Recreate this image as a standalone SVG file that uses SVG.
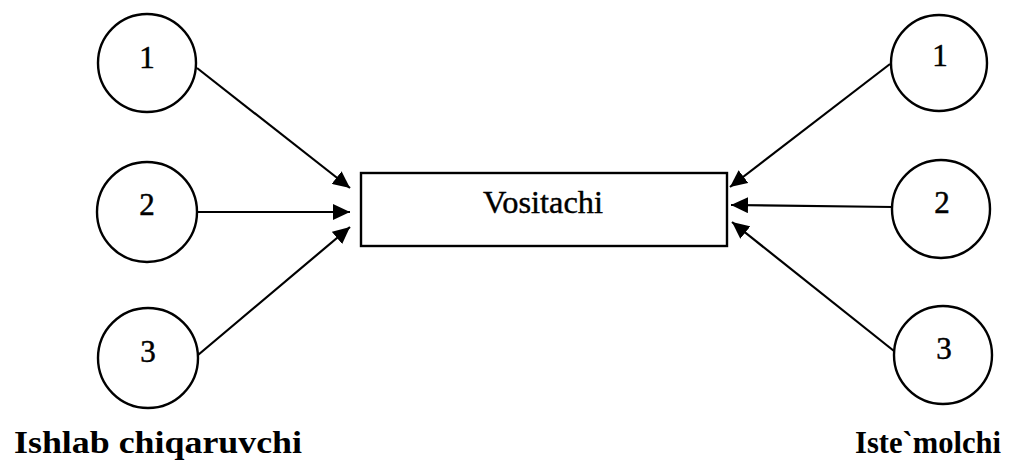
<svg xmlns="http://www.w3.org/2000/svg" width="1009" height="465" viewBox="0 0 1009 465">
<defs>
<style>
.node{fill:#fff;stroke:#000;stroke-width:2.4}
.num{font-family:"Liberation Serif",serif;font-size:31px;text-anchor:middle;fill:#000;stroke:#000;stroke-width:0.5}
.lbl{font-family:"Liberation Serif",serif;font-size:32px;font-weight:bold;fill:#000}
.conn{stroke:#000;stroke-width:2.2;fill:none;marker-end:url(#ah)}
</style>
<marker id="ah" markerUnits="userSpaceOnUse" markerWidth="18" markerHeight="16" refX="17" refY="8" orient="auto">
<path d="M0,0 L17,8 L0,16 Z" fill="#000"/>
</marker>
</defs>
<rect width="1009" height="465" fill="#fff"/>
<g id="connectors">
<line class="conn" x1="197" y1="68" x2="350" y2="188"/>
<line class="conn" x1="197" y1="212" x2="350" y2="212"/>
<line class="conn" x1="198" y1="355" x2="350" y2="227"/>
<line class="conn" x1="890" y1="64" x2="730" y2="187"/>
<line class="conn" x1="893" y1="207" x2="731" y2="205"/>
<line class="conn" x1="894" y1="351" x2="732" y2="222"/>
</g>
<g id="vositachi">
<rect class="node" x="361" y="173" width="366" height="73"/>
<text x="543" y="213" font-family="Liberation Serif, serif" font-size="31" text-anchor="middle" stroke="#000" stroke-width="0.4" textLength="120" lengthAdjust="spacingAndGlyphs">Vositachi</text>
</g>
<g id="left1"><circle class="node" cx="147" cy="63" r="49"/><text class="num" x="147" y="68">1</text></g>
<g id="left2"><circle class="node" cx="147" cy="212" r="50"/><text class="num" x="147" y="215">2</text></g>
<g id="left3"><circle class="node" cx="148" cy="358" r="50"/><text class="num" x="148" y="362">3</text></g>
<g id="right1"><circle class="node" cx="939" cy="63" r="48"/><text class="num" x="940" y="66">1</text></g>
<g id="right2"><circle class="node" cx="941" cy="209" r="49"/><text class="num" x="942" y="213">2</text></g>
<g id="right3"><circle class="node" cx="943" cy="355" r="49"/><text class="num" x="944" y="359">3</text></g>
<g id="label-left"><text class="lbl" x="14" y="453" textLength="288" lengthAdjust="spacingAndGlyphs">Ishlab chiqaruvchi</text></g>
<g id="label-right"><text class="lbl" x="855" y="453" textLength="146" lengthAdjust="spacingAndGlyphs">Iste`molchi</text></g>
</svg>
